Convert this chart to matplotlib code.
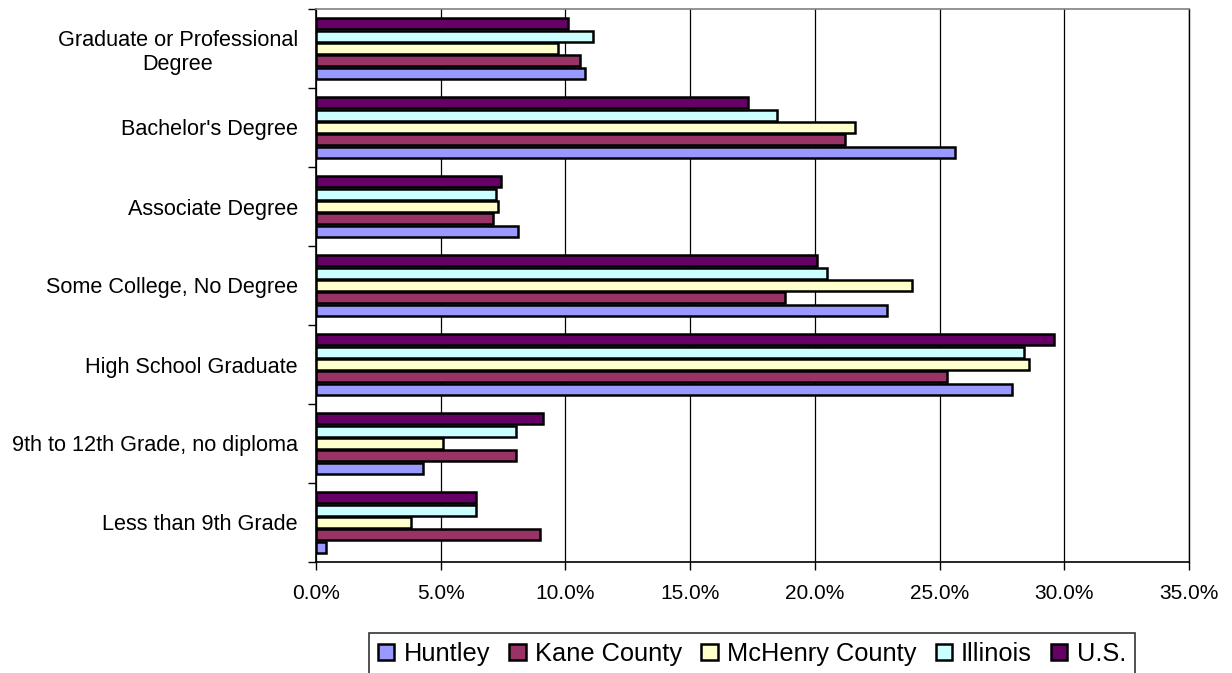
import matplotlib

matplotlib.use("Agg")
import matplotlib.pyplot as plt
import numpy as np
from matplotlib.ticker import FuncFormatter, MultipleLocator

plt.rcParams["font.family"] = ["Liberation Sans", "DejaVu Sans"]

categories = [
    "Less than 9th Grade",
    "9th to 12th Grade, no diploma",
    "High School Graduate",
    "Some College, No Degree",
    "Associate Degree",
    "Bachelor's Degree",
    "Graduate or Professional\nDegree",
]
series_names = ["Huntley", "Kane County", "McHenry County", "Illinois", "U.S."]
huntley = [0.4, 4.3, 27.9, 22.9, 8.1, 25.6, 10.8]
kane = [9.0, 8.0, 25.3, 18.8, 7.1, 21.2, 10.6]
mchenry = [3.8, 5.1, 28.6, 23.9, 7.3, 21.6, 9.7]
illinois = [6.4, 8.0, 28.4, 20.5, 7.2, 18.5, 11.1]
us = [6.4, 9.1, 29.6, 20.1, 7.4, 17.3, 10.1]

COLORS = ["#9999ff", "#993366", "#ffffcc", "#ccffff", "#660066"]

fig = plt.figure(figsize=(12.32, 6.73), dpi=100)
ax = fig.add_axes([316 / 1232, 1 - 562 / 673, (1189 - 316) / 1232, (562 - 9) / 673])

y = np.arange(len(categories))
step = 0.156
for i, (name, vals) in enumerate(zip(series_names,
                                     [huntley, kane, mchenry, illinois, us])):
    ax.barh(y + (i - 2) * step, vals, height=step * 0.9, color=COLORS[i],
            edgecolor="black", lw=1.8, label=name, zorder=3)

ax.set_xlim(0, 35)
ax.set_ylim(-0.5, len(categories) - 0.5)
ax.xaxis.set_major_locator(MultipleLocator(5))
ax.xaxis.set_major_formatter(FuncFormatter(lambda v, _: f"{v:.1f}%"))
ax.grid(axis="x", color="black", lw=0.9, zorder=0)

ax.set_yticks(y)
ax.set_yticklabels(categories, fontsize=15.6, ha="right")
ax.set_yticks(np.arange(-0.5, len(categories), 1.0), minor=True)
ax.tick_params(axis="y", which="major", length=0, pad=13)
ax.tick_params(axis="y", which="minor", length=6, width=1.0, direction="out")
ax.tick_params(axis="x", labelsize=15, length=6, width=1.0, pad=10, direction="out")
for lab in ax.get_yticklabels():
    lab.set_multialignment("center")

for side in ["left", "bottom"]:
    ax.spines[side].set_color("black")
    ax.spines[side].set_linewidth(1.2)
ax.spines["top"].set_color("#808080")
ax.spines["top"].set_linewidth(1.2)
ax.spines["right"].set_color("black")
ax.spines["right"].set_linewidth(1.0)

leg = fig.legend(loc="upper center", bbox_to_anchor=(752 / 1232, 1 - 633 / 673),
                 ncol=5, frameon=True, fancybox=False, edgecolor="black",
                 handlelength=0.64, handleheight=0.64, handletextpad=0.36,
                 columnspacing=0.76, borderpad=0.35, borderaxespad=0,
                 prop={"size": 18.3})
leg.get_frame().set_linewidth(1.2)

fig.savefig("out.png", dpi=100)
